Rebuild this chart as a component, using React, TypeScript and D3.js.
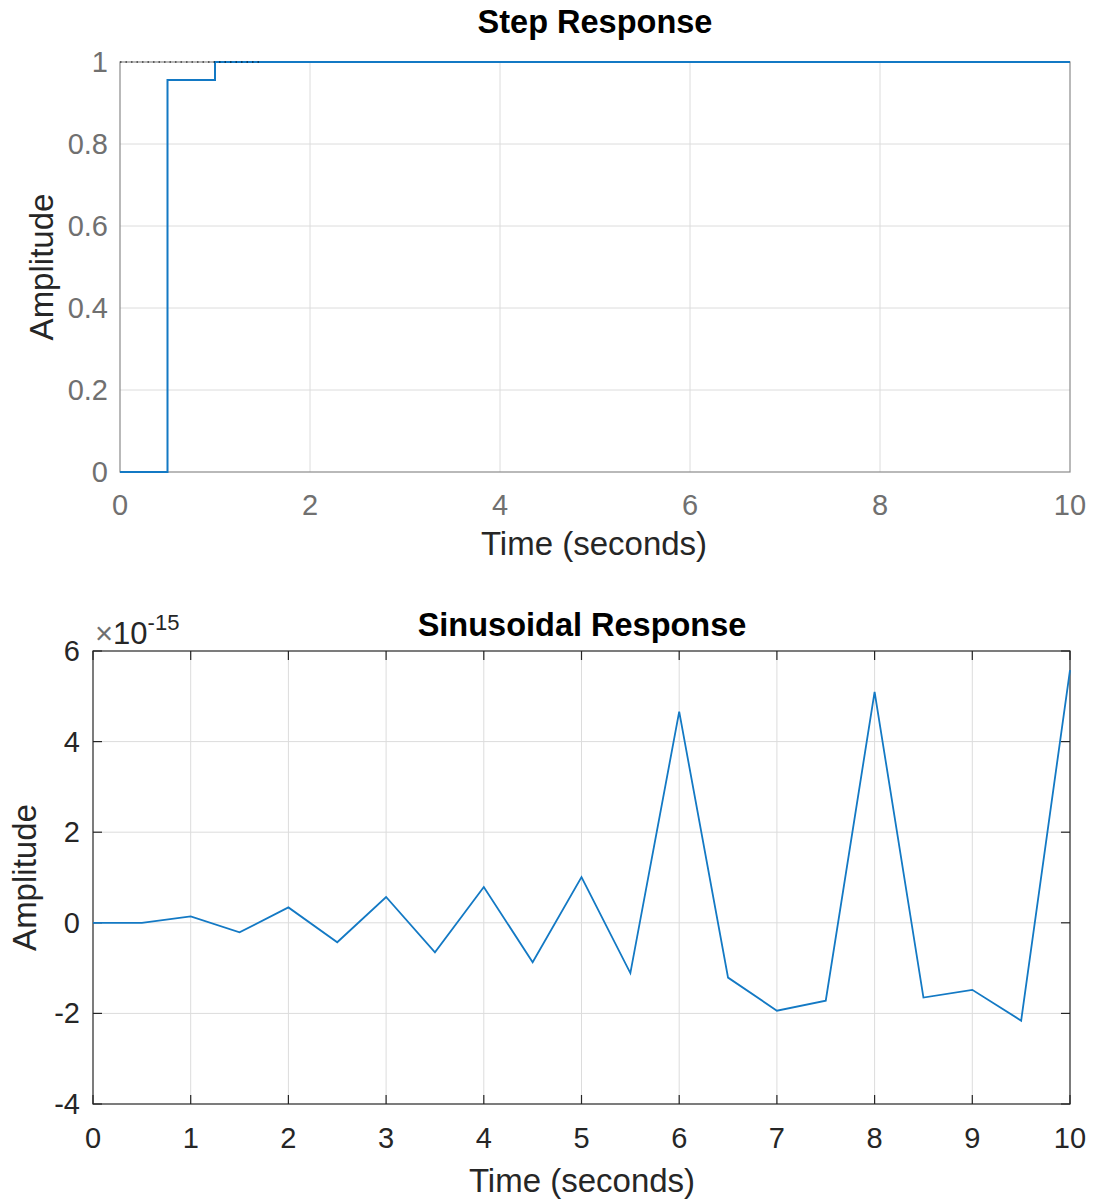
import React from "react";
import * as d3 from "d3";

const stepTimes = [0, 0.5, 1, 10];
const stepValues = [0, 0.956, 1, 1];
const steadyStateEnd = 1.5;
const stepXTicks = [0, 2, 4, 6, 8, 10];
const stepYTicks = [0, 0.2, 0.4, 0.6, 0.8, 1];

const sinTimes = [0, 0.5, 1, 1.5, 2, 2.5, 3, 3.5, 4, 4.5, 5, 5.5, 6, 6.5, 7, 7.5, 8, 8.5, 9, 9.5, 10];
const sinValues = [0, 0, 0.14, -0.21, 0.34, -0.43, 0.57, -0.65, 0.79, -0.87, 1.01, -1.11, 4.66, -1.21, -1.94, -1.72, 5.1, -1.65, -1.48, -2.16, 5.58];
const sinXTicks = [0, 1, 2, 3, 4, 5, 6, 7, 8, 9, 10];
const sinYTicks = [-4, -2, 0, 2, 4, 6];

const FONT = "'Liberation Sans', Arial, Helvetica, sans-serif";
const BLUE = "#1379c4";
const GRID = "#dcdcdc";

export default function App() {
  // Top plot
  const tx = d3.scaleLinear().domain([0, 10]).range([120, 1070]);
  const ty = d3.scaleLinear().domain([0, 1]).range([472, 62]);
  const stepLine = d3
    .line<number>()
    .x((_, i) => tx(stepTimes[i]))
    .y((d) => ty(d))
    .curve(d3.curveStepAfter);
  const topAxis = "#8a8a8a";
  const topTick = "#707070";

  // Bottom plot
  const bx = d3.scaleLinear().domain([0, 10]).range([93, 1070]);
  const by = d3.scaleLinear().domain([-4, 6]).range([1104, 651]);
  const sinLine = d3
    .line<number>()
    .x((_, i) => bx(sinTimes[i]))
    .y((d) => by(d));
  const dark = "#262626";
  const tl = 9;

  return (
    <svg
      width={1097}
      height={1203}
      style={{ position: "absolute", left: 0, top: 0, background: "#fff" }}
      fontFamily={FONT}
    >
      <rect x={0} y={0} width={1097} height={1203} fill="#fff" />
      {/* ---------- Top: Step Response ---------- */}
      <g>
        {stepXTicks.slice(1, -1).map((t) => (
          <line key={"gx" + t} x1={tx(t)} x2={tx(t)} y1={ty(0)} y2={ty(1)} stroke={GRID} strokeWidth={1} />
        ))}
        {stepYTicks.slice(1, -1).map((t) => (
          <line key={"gy" + t} x1={tx(0)} x2={tx(10)} y1={ty(t)} y2={ty(t)} stroke={GRID} strokeWidth={1} />
        ))}
        <rect x={tx(0)} y={ty(1)} width={tx(10) - tx(0)} height={ty(0) - ty(1)} fill="none" stroke={topAxis} strokeWidth={1.2} />
        <path d={stepLine(stepValues) || ""} fill="none" stroke={BLUE} strokeWidth={2} />
        <line x1={tx(0)} x2={tx(steadyStateEnd)} y1={ty(1)} y2={ty(1)} stroke="#000" strokeWidth={1.2} strokeDasharray="1.5 4" />
        {stepXTicks.map((t) => (
          <text key={"tx" + t} x={tx(t)} y={515} textAnchor="middle" fontSize={29} fill={topTick}>
            {t}
          </text>
        ))}
        {stepYTicks.map((t) => (
          <text key={"ty" + t} x={108} y={ty(t) + 10} textAnchor="end" fontSize={29} fill={topTick}>
            {t}
          </text>
        ))}
        <text x={595} y={33} textAnchor="middle" fontSize={32.5} fontWeight="bold" fill="#000">
          Step Response
        </text>
        <text x={594} y={555} textAnchor="middle" fontSize={33} fill={dark}>
          Time (seconds)
        </text>
        <text transform={`translate(53, ${ty(0.5)}) rotate(-90)`} textAnchor="middle" fontSize={33} fill={dark}>
          Amplitude
        </text>
      </g>

      {/* ---------- Bottom: Sinusoidal Response ---------- */}
      <g>
        {sinXTicks.slice(1, -1).map((t) => (
          <line key={"bgx" + t} x1={bx(t)} x2={bx(t)} y1={by(-4)} y2={by(6)} stroke={GRID} strokeWidth={1} />
        ))}
        {sinYTicks.slice(1, -1).map((t) => (
          <line key={"bgy" + t} x1={bx(0)} x2={bx(10)} y1={by(t)} y2={by(t)} stroke={GRID} strokeWidth={1} />
        ))}
        {sinXTicks.map((t) => (
          <g key={"btk" + t}>
            <line x1={bx(t)} x2={bx(t)} y1={by(-4)} y2={by(-4) - tl} stroke={dark} strokeWidth={1.2} />
            <line x1={bx(t)} x2={bx(t)} y1={by(6)} y2={by(6) + tl} stroke={dark} strokeWidth={1.2} />
          </g>
        ))}
        {sinYTicks.map((t) => (
          <g key={"bytk" + t}>
            <line x1={bx(0)} x2={bx(0) + tl} y1={by(t)} y2={by(t)} stroke={dark} strokeWidth={1.2} />
            <line x1={bx(10)} x2={bx(10) - tl} y1={by(t)} y2={by(t)} stroke={dark} strokeWidth={1.2} />
          </g>
        ))}
        <rect x={bx(0)} y={by(6)} width={bx(10) - bx(0)} height={by(-4) - by(6)} fill="none" stroke={dark} strokeWidth={1.2} />
        <path d={sinLine(sinValues) || ""} fill="none" stroke={BLUE} strokeWidth={1.8} />
        {sinXTicks.map((t) => (
          <text key={"bx" + t} x={bx(t)} y={1148} textAnchor="middle" fontSize={29} fill={dark}>
            {t}
          </text>
        ))}
        {sinYTicks.map((t) => (
          <text key={"by" + t} x={80} y={by(t) + 10} textAnchor="end" fontSize={29} fill={dark}>
            {t}
          </text>
        ))}
        <text x={95} y={644} fontSize={31} fill={dark}>
          <tspan fill="#707070">×</tspan>10
          <tspan dy={-14} fontSize={22}>-15</tspan>
        </text>
        <text x={582} y={636} textAnchor="middle" fontSize={32.5} fontWeight="bold" fill="#000">
          Sinusoidal Response
        </text>
        <text x={582} y={1192} textAnchor="middle" fontSize={33} fill={dark}>
          Time (seconds)
        </text>
        <text transform={`translate(36, ${by(1)}) rotate(-90)`} textAnchor="middle" fontSize={33} fill={dark}>
          Amplitude
        </text>
      </g>
    </svg>
  );
}
